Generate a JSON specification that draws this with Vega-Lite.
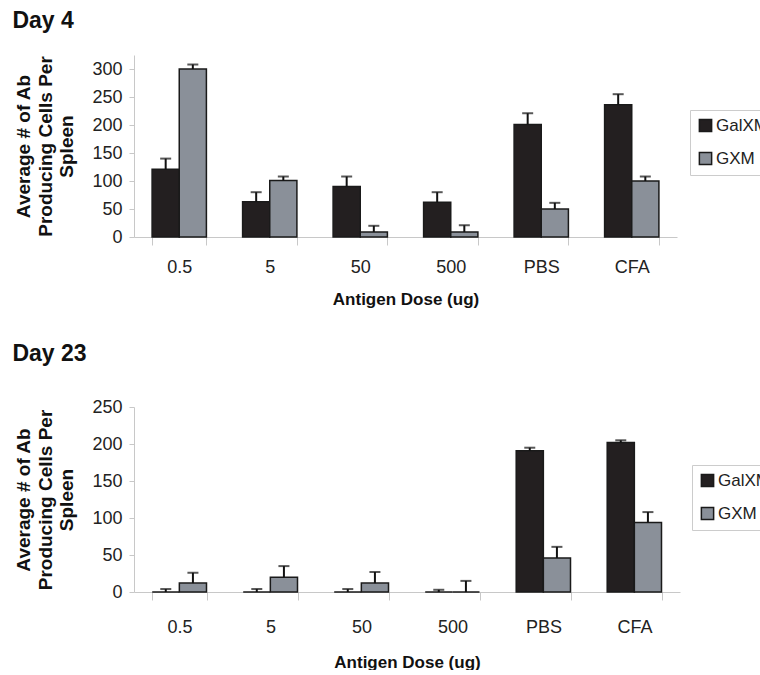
{
  "$schema": "https://vega.github.io/schema/vega-lite/v6.json",
  "padding": {"left": 12, "top": 10, "right": 0, "bottom": 0},
  "datasets": {
    "d4": [
      {"dose": "0.5", "series": "GalXM", "value": 121, "err": 140},
      {"dose": "0.5", "series": "GXM", "value": 300, "err": 308},
      {"dose": "5", "series": "GalXM", "value": 63, "err": 80},
      {"dose": "5", "series": "GXM", "value": 101, "err": 108},
      {"dose": "50", "series": "GalXM", "value": 90, "err": 108},
      {"dose": "50", "series": "GXM", "value": 9, "err": 20},
      {"dose": "500", "series": "GalXM", "value": 62, "err": 80},
      {"dose": "500", "series": "GXM", "value": 9, "err": 21},
      {"dose": "PBS", "series": "GalXM", "value": 201, "err": 221},
      {"dose": "PBS", "series": "GXM", "value": 50, "err": 61},
      {"dose": "CFA", "series": "GalXM", "value": 236, "err": 255},
      {"dose": "CFA", "series": "GXM", "value": 100, "err": 108}
    ],
    "d23": [
      {"dose": "0.5", "series": "GalXM", "value": 0, "err": 4},
      {"dose": "0.5", "series": "GXM", "value": 12, "err": 26},
      {"dose": "5", "series": "GalXM", "value": 0, "err": 4},
      {"dose": "5", "series": "GXM", "value": 20, "err": 35},
      {"dose": "50", "series": "GalXM", "value": 0, "err": 4},
      {"dose": "50", "series": "GXM", "value": 12, "err": 27},
      {"dose": "500", "series": "GalXM", "value": 0, "err": 3},
      {"dose": "500", "series": "GXM", "value": 0, "err": 15},
      {"dose": "PBS", "series": "GalXM", "value": 191, "err": 195},
      {"dose": "PBS", "series": "GXM", "value": 46, "err": 61},
      {"dose": "CFA", "series": "GalXM", "value": 202, "err": 205},
      {"dose": "CFA", "series": "GXM", "value": 94, "err": 108}
    ]
  },
  "config": {
    "font": "Liberation Sans",
    "view": {"stroke": null},
    "axis": {
      "grid": false,
      "domainColor": "#c8c8c8",
      "tickColor": "#c8c8c8",
      "labelColor": "#222",
      "titleColor": "#111",
      "titleFontWeight": "bold"
    },
    "axisY": {
      "tickSize": 5,
      "labelFontSize": 18,
      "labelPadding": 7,
      "labelOverlap": false,
      "titleFontSize": 19,
      "titleLineHeight": 21.5,
      "titlePadding": 15
    },
    "legend": {
      "orient": "none",
      "title": null,
      "symbolType": "square",
      "symbolSize": 150,
      "symbolStrokeColor": "#1a1a1a",
      "symbolStrokeWidth": 1.5,
      "labelFontSize": 17,
      "labelColor": "#222",
      "labelOffset": 2,
      "rowPadding": 14,
      "padding": 7,
      "strokeColor": "#cccccc"
    },
    "title": {"anchor": "start", "fontSize": 23, "fontWeight": "bold", "color": "#111", "dx": -2.5}
  },
  "resolve": {"scale": {"color": "independent"}},
  "spacing": 36,
  "vconcat": [
    {
      "title": {"text": "Day 4", "offset": 22},
      "width": 543,
      "height": 182,
      "data": {"name": "d4"},
      "encoding": {
        "x": {
          "field": "dose", "type": "nominal",
          "sort": ["0.5", "5", "50", "500", "PBS", "CFA"],
          "scale": {"paddingInner": 0.4, "paddingOuter": 0.2},
          "axis": {"title": "Antigen Dose (ug)", "labelAngle": 0, "tickBand": "extent", "tickSize": 8, "labelPadding": 13, "labelFontSize": 18, "titleFontSize": 17, "titlePadding": 15}
        },
        "xOffset": {"field": "series", "type": "nominal", "sort": ["GalXM", "GXM"]}
      },
      "layer": [
        {
          "mark": {"type": "bar", "stroke": "#1a1a1a", "strokeWidth": 1.5},
          "encoding": {
            "y": {"field": "value", "type": "quantitative", "scale": {"domain": [0, 325], "nice": false},
              "axis": {"values": [0, 50, 100, 150, 200, 250, 300], "title": ["Average # of Ab", "Producing Cells Per", "Spleen"]}},
            "color": {"field": "series", "type": "nominal", "sort": ["GalXM", "GXM"],
              "scale": {"domain": ["GalXM", "GXM"], "range": ["#231f20", "#8a9099"]},
              "legend": {"legendX": 556, "legendY": 55}}
          }
        },
        {
          "mark": {"type": "rule", "color": "#111", "strokeWidth": 2},
          "encoding": {"y": {"field": "value", "type": "quantitative",
              "axis": {"values": [0, 50, 100, 150, 200, 250, 300], "title": ["Average # of Ab", "Producing Cells Per", "Spleen"]}}, "y2": {"field": "err"}}
        },
        {
          "mark": {"type": "tick", "color": "#111", "thickness": 2, "size": 11},
          "encoding": {"y": {"field": "err", "type": "quantitative",
              "axis": {"values": [0, 50, 100, 150, 200, 250, 300], "title": ["Average # of Ab", "Producing Cells Per", "Spleen"]}}}
        }
      ]
    },
    {
      "title": {"text": "Day 23", "offset": 32},
      "width": 546,
      "height": 185,
      "data": {"name": "d23"},
      "encoding": {
        "x": {
          "field": "dose", "type": "nominal",
          "sort": ["0.5", "5", "50", "500", "PBS", "CFA"],
          "scale": {"paddingInner": 0.4, "paddingOuter": 0.2},
          "axis": {"title": "Antigen Dose (ug)", "labelAngle": 0, "tickBand": "extent", "tickSize": 8, "labelPadding": 18, "labelFontSize": 18, "titleFontSize": 17, "titlePadding": 18}
        },
        "xOffset": {"field": "series", "type": "nominal", "sort": ["GalXM", "GXM"]}
      },
      "layer": [
        {
          "mark": {"type": "bar", "stroke": "#1a1a1a", "strokeWidth": 1.5},
          "encoding": {
            "y": {"field": "value", "type": "quantitative", "scale": {"domain": [0, 250], "nice": false},
              "axis": {"values": [0, 50, 100, 150, 200, 250], "title": ["Average # of Ab", "Producing Cells Per", "Spleen"]}},
            "color": {"field": "series", "type": "nominal", "sort": ["GalXM", "GXM"],
              "scale": {"domain": ["GalXM", "GXM"], "range": ["#231f20", "#8a9099"]},
              "legend": {"legendX": 558, "legendY": 58}}
          }
        },
        {
          "mark": {"type": "rule", "color": "#111", "strokeWidth": 2},
          "encoding": {"y": {"field": "value", "type": "quantitative",
              "axis": {"values": [0, 50, 100, 150, 200, 250], "title": ["Average # of Ab", "Producing Cells Per", "Spleen"]}}, "y2": {"field": "err"}}
        },
        {
          "mark": {"type": "tick", "color": "#111", "thickness": 2, "size": 11},
          "encoding": {"y": {"field": "err", "type": "quantitative",
              "axis": {"values": [0, 50, 100, 150, 200, 250], "title": ["Average # of Ab", "Producing Cells Per", "Spleen"]}}}
        }
      ]
    }
  ]
}
